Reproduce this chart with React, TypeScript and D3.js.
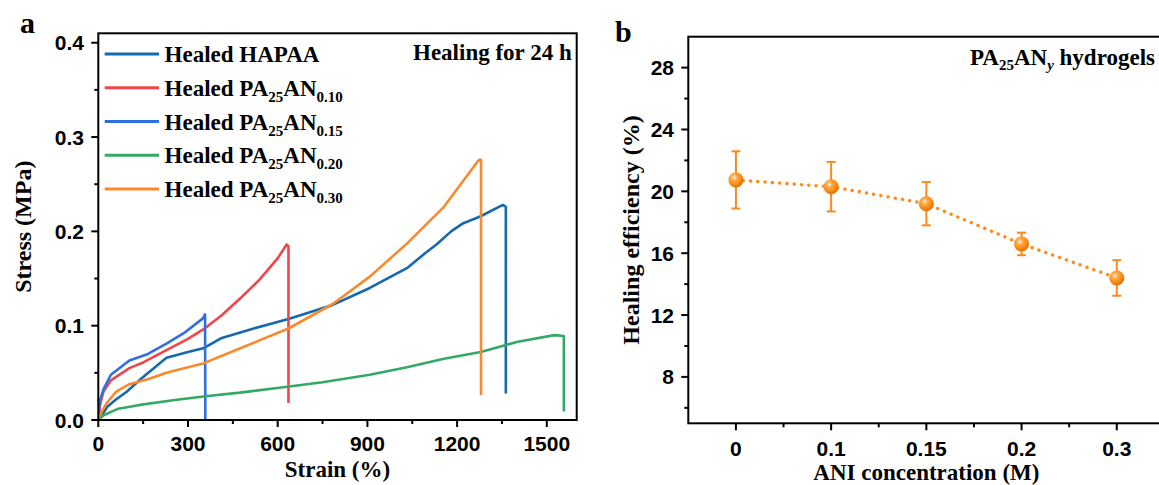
import React from "react";
import * as d3 from "d3";

// ---------- Panel a data: stress-strain curves (strain %, stress MPa) ----------
const hapaa: [number, number][] = [
  [0, 0], [10, 0.004], [30, 0.014], [60, 0.022], [95, 0.03], [140, 0.043], [228, 0.066],
  [300, 0.072], [351, 0.076], [413, 0.087], [520, 0.097], [636, 0.107], [784, 0.122],
  [908, 0.14], [1032, 0.161], [1094, 0.177], [1131, 0.186], [1180, 0.2], [1217, 0.208],
  [1279, 0.216], [1353, 0.228], [1363, 0.226], [1363, 0.028],
];
const an010: [number, number][] = [
  [0, 0], [5, 0.015], [17, 0.03], [42, 0.042], [104, 0.055], [150, 0.061], [228, 0.074],
  [300, 0.086], [351, 0.096], [413, 0.111], [475, 0.129], [537, 0.148], [599, 0.171],
  [630, 0.186], [636, 0.184], [636, 0.018],
];
const an015: [number, number][] = [
  [0, 0], [5, 0.02], [18, 0.033], [42, 0.048], [104, 0.063], [166, 0.07], [228, 0.081],
  [290, 0.093], [351, 0.108], [357, 0.112], [358, 0.0],
];
const an020: [number, number][] = [
  [0, 0], [18, 0.005], [67, 0.012], [139, 0.016], [250, 0.021], [351, 0.025], [474, 0.029],
  [599, 0.034], [750, 0.04], [908, 0.048], [1032, 0.056], [1156, 0.065], [1279, 0.072],
  [1403, 0.083], [1526, 0.09], [1557, 0.089], [1557, 0.009],
];
const an030: [number, number][] = [
  [0, 0], [10, 0.008], [28, 0.018], [60, 0.03], [104, 0.038], [173, 0.044], [228, 0.05],
  [300, 0.056], [351, 0.06], [475, 0.076], [636, 0.097], [784, 0.123], [908, 0.152],
  [1032, 0.187], [1156, 0.226], [1273, 0.276], [1280, 0.276], [1280, 0.0265],
];
const seriesData = [hapaa, an010, an015, an020, an030];
const seriesColors = ["#1768ad", "#f0464a", "#2c70e2", "#33a965", "#f98a2c"];
const legendSubs = ["", "0.10", "0.15", "0.20", "0.30"];

const strainTicks = [0, 300, 600, 900, 1200, 1500];
const strainMinor = [150, 450, 750, 1050, 1350];
const stressTicks = [0, 0.1, 0.2, 0.3, 0.4];
const stressMinor = [0.05, 0.15, 0.25, 0.35];

// ---------- Panel b data ----------
const concLabels = ["0", "0.1", "0.15", "0.2", "0.3"];
const efficiency = [20.74, 20.3, 19.2, 16.6, 14.4];
const effError = [1.85, 1.6, 1.4, 0.73, 1.15];
const effTicks = [8, 12, 16, 20, 24, 28];
const effMinor = [6, 10, 14, 18, 22, 26];

const SANS = "'Liberation Sans', Arial, sans-serif";
const SERIF = "'Liberation Serif', 'Times New Roman', serif";

export default function App() {
  const xA = d3.scaleLinear().domain([0, 1600]).range([98.3, 576.7]);
  const yA = d3.scaleLinear().domain([0, 0.41]).range([420, 33.3]);
  const xB = d3.scaleLinear().domain([-0.5, 4.5]).range([688.3, 1164.4]);
  const yB = d3.scaleLinear().domain([5, 30]).range([423.3, 36.7]);

  const lineA = d3
    .line<[number, number]>()
    .x((d) => xA(d[0]))
    .y((d) => yA(d[1]));

  const lineB = d3
    .line<number>()
    .x((_, i) => xB(i))
    .y((d) => yB(d));

  const tickLen = 7;
  const minorLen = 4;
  const tickFont = 21;

  return (
    <svg
      width={1159}
      height={485}
      style={{ position: "absolute", left: 0, top: 0, background: "#fff" }}
    >
      <defs>
        <radialGradient id="ball" cx="38%" cy="35%" r="65%">
          <stop offset="0%" stopColor="#fff4e2" />
          <stop offset="30%" stopColor="#ffab4a" />
          <stop offset="75%" stopColor="#f7860c" />
          <stop offset="100%" stopColor="#e07300" />
        </radialGradient>
        <clipPath id="clipA">
          <rect x={98.3} y={33.3} width={478.4} height={386.7} />
        </clipPath>
      </defs>

      {/* ================= Panel a ================= */}
      <text x={20} y={33} fontFamily={SERIF} fontWeight="bold" fontSize={30}>a</text>

      <g clipPath="url(#clipA)">
        {seriesData.map((s, i) => (
          <path
            key={i}
            d={lineA(s) || ""}
            fill="none"
            stroke={seriesColors[i]}
            strokeWidth={2.6}
            strokeLinejoin="round"
          />
        ))}
      </g>

      <rect x={98.3} y={33.3} width={478.4} height={386.7} fill="none" stroke="#000" strokeWidth={2} />

      {/* y ticks */}
      {stressTicks.map((t) => (
        <g key={"ya" + t}>
          <line x1={98.3} x2={98.3 - tickLen} y1={yA(t)} y2={yA(t)} stroke="#000" strokeWidth={2} />
          <text
            x={84}
            y={yA(t) + 7.5}
            textAnchor="end"
            fontFamily={SANS}
            fontWeight="bold"
            fontSize={tickFont}
          >
            {t.toFixed(1)}
          </text>
        </g>
      ))}
      {stressMinor.map((t) => (
        <line key={"yam" + t} x1={98.3} x2={98.3 - minorLen} y1={yA(t)} y2={yA(t)} stroke="#000" strokeWidth={2} />
      ))}
      {/* x ticks */}
      {strainTicks.map((t) => (
        <g key={"xa" + t}>
          <line x1={xA(t)} x2={xA(t)} y1={420} y2={420 + tickLen} stroke="#000" strokeWidth={2} />
          <text
            x={xA(t)}
            y={450.5}
            textAnchor="middle"
            fontFamily={SANS}
            fontWeight="bold"
            fontSize={tickFont}
          >
            {t}
          </text>
        </g>
      ))}
      {strainMinor.map((t) => (
        <line key={"xam" + t} x1={xA(t)} x2={xA(t)} y1={420} y2={420 + minorLen} stroke="#000" strokeWidth={2} />
      ))}

      <text x={337.5} y={477} textAnchor="middle" fontFamily={SERIF} fontWeight="bold" fontSize={23}>
        Strain (%)
      </text>
      <text
        transform={`translate(31, 226.7) rotate(-90)`}
        textAnchor="middle"
        fontFamily={SERIF}
        fontWeight="bold"
        fontSize={24}
      >
        Stress (MPa)
      </text>

      {/* legend */}
      {seriesColors.map((c, i) => {
        const ly = 54 + i * 33.75;
        return (
          <g key={"lg" + i}>
            <line x1={104.7} x2={159} y1={ly} y2={ly} stroke={c} strokeWidth={3} />
            <text x={164.6} y={ly + 8} fontFamily={SERIF} fontWeight="bold" fontSize={23}>
              {i === 0 ? (
                "Healed HAPAA"
              ) : (
                <>
                  Healed PA
                  <tspan fontSize={15} dy={6}>25</tspan>
                  <tspan dy={-6}>AN</tspan>
                  <tspan fontSize={15} dy={6}>{legendSubs[i]}</tspan>
                </>
              )}
            </text>
          </g>
        );
      })}

      <text x={571.7} y={60} textAnchor="end" fontFamily={SERIF} fontWeight="bold" fontSize={23}>
        Healing for 24 h
      </text>

      {/* ================= Panel b ================= */}
      <text x={615} y={41.7} fontFamily={SERIF} fontWeight="bold" fontSize={30}>b</text>

      <rect x={688.3} y={36.7} width={476.1} height={386.6} fill="none" stroke="#000" strokeWidth={2} />

      {effTicks.map((t) => (
        <g key={"yb" + t}>
          <line x1={688.3} x2={688.3 - tickLen} y1={yB(t)} y2={yB(t)} stroke="#000" strokeWidth={2} />
          <text
            x={674}
            y={yB(t) + 7.5}
            textAnchor="end"
            fontFamily={SANS}
            fontWeight="bold"
            fontSize={tickFont}
          >
            {t}
          </text>
        </g>
      ))}
      {effMinor.map((t) => (
        <line key={"ybm" + t} x1={688.3} x2={688.3 - minorLen} y1={yB(t)} y2={yB(t)} stroke="#000" strokeWidth={2} />
      ))}
      {concLabels.map((l, i) => (
        <g key={"xb" + i}>
          <line x1={xB(i)} x2={xB(i)} y1={423.3} y2={423.3 + tickLen} stroke="#000" strokeWidth={2} />
          <text
            x={xB(i)}
            y={455.5}
            textAnchor="middle"
            fontFamily={SANS}
            fontWeight="bold"
            fontSize={tickFont}
          >
            {l}
          </text>
        </g>
      ))}
      {[0.5, 1.5, 2.5, 3.5].map((t) => (
        <line key={"xbm" + t} x1={xB(t)} x2={xB(t)} y1={423.3} y2={423.3 + minorLen} stroke="#000" strokeWidth={2} />
      ))}

      <text x={926.4} y={480} textAnchor="middle" fontFamily={SERIF} fontWeight="bold" fontSize={23}>
        ANI concentration (M)
      </text>
      <text
        transform={`translate(639, 230) rotate(-90)`}
        textAnchor="middle"
        fontFamily={SERIF}
        fontWeight="bold"
        fontSize={24}
      >
        Healing efficiency (%)
      </text>

      <text x={1155} y={65} textAnchor="end" fontFamily={SERIF} fontWeight="bold" fontSize={23}>
        PA
        <tspan fontSize={15} dy={5}>25</tspan>
        <tspan dy={-5}>AN</tspan>
        <tspan fontSize={15} dy={5} fontStyle="italic">y</tspan>
        <tspan dy={-5}> hydrogels</tspan>
      </text>

      {/* dotted connecting line */}
      <path
        d={lineB(efficiency) || ""}
        fill="none"
        stroke="#ff8a1c"
        strokeWidth={3.4}
        strokeDasharray="0.1 7.2"
        strokeLinecap="round"
      />
      {/* error bars */}
      {efficiency.map((v, i) => (
        <g key={"eb" + i} stroke="#f98a1e" strokeWidth={2}>
          <line x1={xB(i)} x2={xB(i)} y1={yB(v - effError[i])} y2={yB(v + effError[i])} />
          <line x1={xB(i) - 4.5} x2={xB(i) + 4.5} y1={yB(v + effError[i])} y2={yB(v + effError[i])} />
          <line x1={xB(i) - 4.5} x2={xB(i) + 4.5} y1={yB(v - effError[i])} y2={yB(v - effError[i])} />
        </g>
      ))}
      {efficiency.map((v, i) => (
        <circle key={"mk" + i} cx={xB(i)} cy={yB(v)} r={7.5} fill="url(#ball)" />
      ))}
    </svg>
  );
}
